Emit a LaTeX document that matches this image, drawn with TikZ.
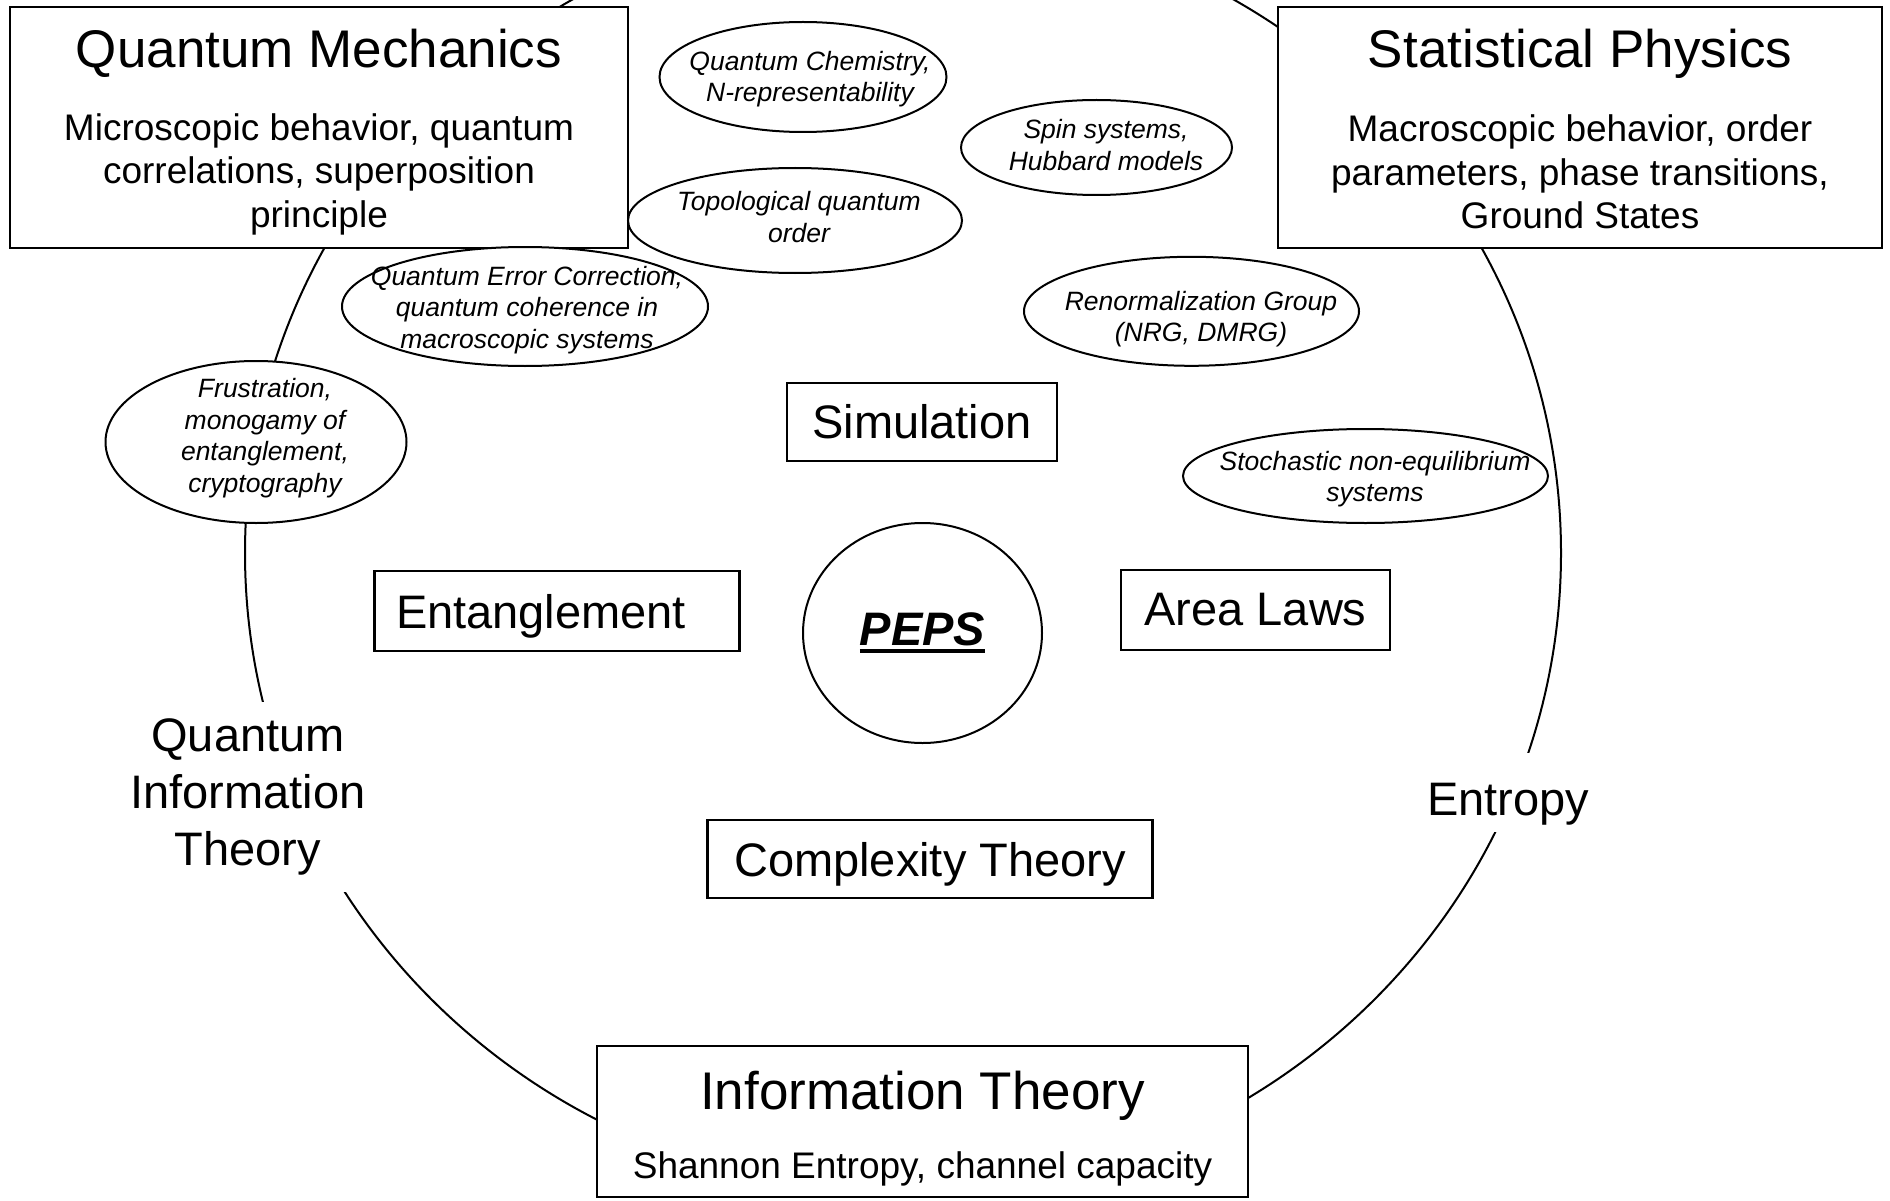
\documentclass[tikz,border=0pt]{standalone}
\usepackage{fontspec}
\setmainfont{Liberation Sans}
\usetikzlibrary{shapes.geometric}
\newcommand\pepsline[1]{\setbox0\hbox{#1}\rlap{\rule[-8pt]{\wd0}{4pt}}\box0}
\begin{document}
\begin{tikzpicture}[x=1pt,y=-1pt,
  every node/.style={inner sep=0pt, outer sep=0pt},
  frame/.style={draw, line width=2.5pt, fill=white, rectangle},
  oval/.style={draw, line width=2pt, fill=white, ellipse},
  ovaltext/.style={align=center, font=\fontsize{26.5}{31.5}\selectfont\itshape},
  titletext/.style={font=\fontsize{53}{60}\selectfont},
  bodytext/.style={align=center, font=\fontsize{37}{43.5}\selectfont},
  bigtext/.style={font=\fontsize{47}{57}\selectfont},
  lowtext/.style={text height=44pt, text depth=10pt},
]
\useasboundingbox (0,0) rectangle (1890,1201);
\fill[white] (0,0) rectangle (1890,1201);

% big ring
\node[draw, line width=2pt, ellipse, minimum width=1316pt, minimum height=1280pt] (ring) at (903,553) {};

% labels on the ring
\node[bigtext, fill=white, align=center, inner xsep=6pt, inner ysep=17pt] (qit) at (248,797) {Quantum\\Information\\Theory};
\node[bigtext, fill=white, inner xsep=6pt, inner ysep=5pt, text height=57pt, text depth=12pt] (entropy) at (1508,792.5) {Entropy};

% corner boxes
\node[frame, minimum width=618pt, minimum height=241pt] (qm) at (319,127.5) {};
\node[titletext, anchor=base] (qmtitle) at (319,68) {Quantum Mechanics};
\node[bodytext] (qmbody) at (319,174) {Microscopic behavior, quantum\\correlations, superposition\\principle};

\node[frame, minimum width=604pt, minimum height=241pt] (sp) at (1580,127.5) {};
\node[titletext, anchor=base] (sptitle) at (1580,68) {Statistical Physics};
\node[bodytext] (spbody) at (1580,172) {Macroscopic behavior, order\\parameters, phase transitions,\\Ground States};

\node[frame, minimum width=651pt, minimum height=151pt] (it) at (922.5,1121.5) {};
\node[titletext, anchor=base] (ittitle) at (922.5,1109) {Information Theory};
\node[bodytext, anchor=base] (itbody) at (922.5,1178) {Shannon Entropy, channel capacity};

% inner boxes
\node[frame, bigtext, minimum width=270pt, minimum height=78pt] (sim) at (922,422) {Simulation};
\node[frame, bigtext, lowtext, text width=322pt, inner xsep=21.5pt, minimum height=80pt, align=left] (ent) at (557,611) {Entanglement};
\node[frame, bigtext, minimum width=269pt, minimum height=80pt] (area) at (1255.5,610) {Area Laws};
\node[frame, bigtext, lowtext, minimum width=445pt, minimum height=78pt] (cplx) at (930,859) {Complexity Theory};

% PEPS
\node[oval, minimum width=239pt, minimum height=220pt, font=\fontsize{47}{57}\selectfont\bfseries\itshape] (peps) at (922.5,633) {\pepsline{PEPS}};

% ovals
\node[oval, minimum width=287pt, minimum height=110pt] (qc) at (803,77) {};
\node[ovaltext] (qctext) at (810,79) {Quantum Chemistry,\\N-representability};

\node[oval, minimum width=271pt, minimum height=95pt] (spin) at (1096.5,147.5) {};
\node[ovaltext] (spintext) at (1106,145) {Spin systems,\\Hubbard models};

\node[oval, minimum width=334pt, minimum height=105pt] (topo) at (795,220.5) {};
\node[ovaltext] (topotext) at (799,217) {Topological quantum\\order};

\node[oval, minimum width=366pt, minimum height=119pt] (qec) at (525,306.5) {};
\node[ovaltext] (qectext) at (527,310) {Quantum Error Correction,\\quantum coherence in\\macroscopic systems};

\node[oval, minimum width=335pt, minimum height=109pt] (rg) at (1191.5,311.3) {};
\node[ovaltext] (rgtext) at (1201,319) {Renormalization Group\\(NRG, DMRG)};

\node[oval, minimum width=365pt, minimum height=94pt] (stoch) at (1365.5,476) {};
\node[ovaltext] (stochtext) at (1375,479) {Stochastic non-equilibrium\\systems};

\node[oval, minimum width=301pt, minimum height=162pt] (frus) at (256,442) {};
\node[ovaltext] (frustext) at (265,438) {Frustration,\\monogamy of\\entanglement,\\cryptography};
\end{tikzpicture}
\end{document}
